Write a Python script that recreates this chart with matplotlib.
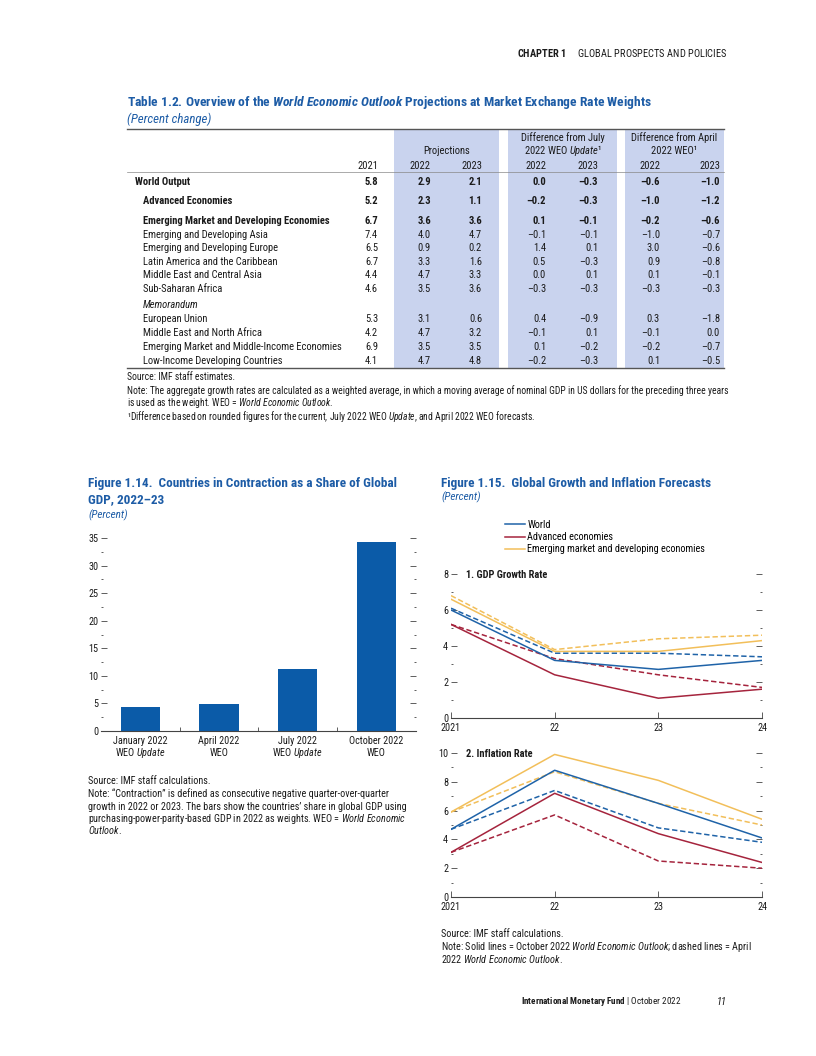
import numpy as np
import matplotlib
matplotlib.use('Agg')
import matplotlib.pyplot as plt
from matplotlib import font_manager as fm
from matplotlib.lines import Line2D

W, H = 816, 1056

# ---------------- Table 1.2 data
rows = ["World Output", "Advanced Economies", "Emerging Market and Developing Economies",
        "Emerging and Developing Asia", "Emerging and Developing Europe",
        "Latin America and the Caribbean", "Middle East and Central Asia", "Sub-Saharan Africa",
        "European Union", "Middle East and North Africa",
        "Emerging Market and Middle-Income Economies", "Low-Income Developing Countries"]
bold_rows = [True, True, True] + [False] * 9
v2021 = [5.8, 5.2, 6.7, 7.4, 6.5, 6.7, 4.4, 4.6, 5.3, 4.2, 6.9, 4.1]
proj2022 = [2.9, 2.3, 3.6, 4.0, 0.9, 3.3, 4.7, 3.5, 3.1, 4.7, 3.5, 4.7]
proj2023 = [2.1, 1.1, 3.6, 4.7, 0.2, 1.6, 3.3, 3.6, 0.6, 3.2, 3.5, 4.8]
jul2022 = [0.0, -0.2, 0.1, -0.1, 1.4, 0.5, 0.0, -0.3, 0.4, -0.1, 0.1, -0.2]
jul2023 = [-0.3, -0.3, -0.1, -0.1, 0.1, -0.3, 0.1, -0.3, -0.9, 0.1, -0.2, -0.3]
apr2022 = [-0.6, -1.0, -0.2, -1.0, 3.0, 0.9, 0.1, -0.3, 0.3, -0.1, -0.2, 0.1]
apr2023 = [-1.0, -1.2, -0.6, -0.7, -0.6, -0.8, -0.1, -0.3, -1.8, 0.0, -0.7, -0.5]
col_years = ["2021", "2022", "2023", "2022", "2023", "2022", "2023"]

# ---------------- Figure 1.14 data
contr_labels = ["January 2022", "April 2022", "July 2022", "October 2022"]
contr_update = [True, False, True, False]
contr_share = [4.3, 4.9, 11.3, 34.3]

# ---------------- Figure 1.15 data
years = [2021, 2022, 2023, 2024]
year_labels = ["2021", "22", "23", "24"]
gdp_world_oct = [6.0, 3.2, 2.7, 3.2]
gdp_world_apr = [6.1, 3.6, 3.6, 3.4]
gdp_adv_oct = [5.2, 2.4, 1.1, 1.6]
gdp_adv_apr = [5.2, 3.3, 2.4, 1.7]
gdp_emde_oct = [6.6, 3.7, 3.7, 4.3]
gdp_emde_apr = [6.8, 3.8, 4.4, 4.6]
inf_world_oct = [4.7, 8.8, 6.5, 4.1]
inf_world_apr = [4.7, 7.4, 4.8, 3.8]
inf_adv_oct = [3.1, 7.2, 4.4, 2.4]
inf_adv_apr = [3.1, 5.7, 2.5, 2.0]
inf_emde_oct = [5.9, 9.9, 8.1, 5.4]
inf_emde_apr = [5.9, 8.7, 6.5, 5.0]
legend_labels = ["World", "Advanced economies", "Emerging market and developing economies"]

# ---------------- fonts: a narrow face if one is installed, else Liberation Sans smaller
names = {f.name for f in fm.fontManager.ttflist}
narrow = next((c for c in ['Liberation Sans Narrow', 'Roboto Condensed', 'Arial Narrow',
                           'Noto Sans Condensed'] if c in names), None)
FONT = narrow or 'Liberation Sans'
if narrow:
    TB, TNOTE, NOTE, FT, TT, SUB, LEG, TICK, PT, CAT, HDR = \
        7.6, 6.9, 7.3, 9.5, 9.7, 9.3, 7.25, 7.3, 7.5, 7.3, 7.5
else:
    TB, TNOTE, NOTE, FT, TT, SUB, LEG, TICK, PT, CAT, HDR = \
        6.6, 6.1, 6.4, 8.3, 8.5, 8.2, 6.4, 7, 6.3, 6.5, 6.5
plt.rcParams['font.family'] = [FONT, 'DejaVu Sans']
plt.rcParams['mathtext.fontset'] = 'custom'
plt.rcParams['mathtext.rm'] = FONT
plt.rcParams['mathtext.it'] = FONT + ':italic'
plt.rcParams['mathtext.bf'] = FONT + ':bold'
plt.rcParams['mathtext.bfit'] = FONT + ':italic:bold'

INK = '#1a1a1a'
BLUE_T = '#1d5ca6'
SHADE = '#c9d3ee'
BAR = '#0b5ba8'
C_WORLD = '#1f63a8'
C_ADV = '#a5243d'
C_EMDE = '#f2bf5a'
AX = '#444444'


def it(s):
    return r'$\mathit{' + s.replace(' ', r'\ ') + '}$'


def bf(s):
    return r'$\mathbf{' + s.replace(' ', r'\ ') + '}$'


def bfit(s):
    return r'$\mathbfit{' + s.replace(' ', r'\ ') + '}$'


def fmt(v):
    return f"{v:.1f}".replace('-', '\u2013')


fig = plt.figure(figsize=(W / 100, H / 100), dpi=100)
page = fig.add_axes([0, 0, 1, 1], zorder=-5)
page.set_xlim(0, W)
page.set_ylim(H, 0)
page.axis('off')


def txt(x, y, s, size=NOTE, ha='left', color=INK, **kw):
    # y is the visual middle of the capitals; place on a shared baseline
    base = y + 0.365 * size * 100 / 72
    page.text(x, base, s, fontsize=size, ha=ha, va='baseline', color=color, **kw)


# ---------------- running header / footer
txt(727, 53, bf("CHAPTER 1") + "     GLOBAL PROSPECTS AND POLICIES", size=HDR, ha='right')
txt(681, 1001, bf("International Monetary Fund") + r" $|$ October 2022", size=HDR - 0.9,
    ha='right')
txt(727, 1001, "11", size=HDR, ha='right', fontstyle='italic')

# ---------------- Table 1.2
txt(127, 101, "Table 1.2. Overview of the " + bfit("World Economic Outlook")
    + " Projections at Market Exchange Rate Weights", size=TT, color=BLUE_T, fontweight='bold')
txt(127, 118, "(Percent change)", size=SUB, color=BLUE_T, fontstyle='italic')

for x0, x1 in [(394, 499), (508, 617), (625, 724)]:
    page.add_patch(plt.Rectangle((x0, 129), x1 - x0, 239, color=SHADE, lw=0, zorder=0))
page.plot([127, 724], [129, 129], color='#555555', lw=1.0)
page.plot([127, 724], [172, 172], color='#888888', lw=0.5)
page.plot([127, 724], [368, 368], color='#555555', lw=1.0)

txt(446.5, 150, "Projections", size=TB, ha='center')
txt(562.5, 137, "Difference from July", size=TB, ha='center')
txt(562.5, 150, "2022 WEO " + it("Update") + "\u00b9", size=TB, ha='center')
txt(674.5, 137, "Difference from April", size=TB, ha='center')
txt(674.5, 150, "2022 WEO\u00b9", size=TB, ha='center')

col_right = [378, 431, 482, 546, 598, 660, 720]
for xr, lab in zip(col_right, col_years):
    txt(xr, 165, lab, size=TB, ha='right')

row_y = [181, 200, 220, 234, 247, 261, 274, 288, 318, 332, 346, 360]
cols = [v2021, proj2022, proj2023, jul2022, jul2023, apr2022, apr2023]
for i, name in enumerate(rows):
    w = 'bold' if bold_rows[i] else 'normal'
    txt(135 if i == 0 else 143, row_y[i], name, size=TB, fontweight=w)
    for xr, col in zip(col_right, cols):
        txt(xr, row_y[i], fmt(col[i]), size=TB, ha='right', fontweight=w)
txt(143, 304, "Memorandum", size=TB, fontstyle='italic')

txt(127, 377, "Source: IMF staff estimates.", size=TNOTE)
txt(127, 391, "Note: The aggregate growth rates are calculated as a weighted average, in which a "
              "moving average of nominal GDP in US dollars for the preceding three years",
    size=TNOTE)
txt(127, 403, "is used as the weight. WEO = " + it("World Economic Outlook") + ".", size=TNOTE)
txt(127, 417, "\u00b9Difference based on rounded figures for the current, July 2022 WEO "
    + it("Update") + ", and April 2022 WEO forecasts.", size=TNOTE)

# ---------------- Figure 1.14
txt(88, 482, "Figure 1.14.  Countries in Contraction as a Share of Global", size=FT,
    color=BLUE_T, fontweight='bold')
txt(88, 498, "GDP, 2022\u201323", size=FT, color=BLUE_T, fontweight='bold')
txt(88, 514, "(Percent)", size=SUB - 1.3, color=BLUE_T, fontstyle='italic')

ax1 = fig.add_axes([101 / W, 1 - 731 / H, 314.6 / W, 193 / H])
xc = np.arange(len(contr_share))
ax1.bar(xc, contr_share, width=0.5, color=BAR)
ax1.set_xlim(-0.5, 3.5)
ax1.set_ylim(0, 35)
for s in ['left', 'right', 'top']:
    ax1.spines[s].set_visible(False)
ax1.spines['bottom'].set_color(AX)
ax1.spines['bottom'].set_linewidth(0.8)
ax1.set_yticks(np.arange(0, 36, 5))
ax1.set_yticks(np.arange(2.5, 35, 5), minor=True)
ax1.tick_params(axis='y', which='both', direction='in', right=True, labelsize=TICK,
                pad=2, color=AX, labelcolor=INK)
ax1.tick_params(axis='y', which='major', length=4, width=0.6)
ax1.tick_params(axis='y', which='minor', length=1.2, width=0.6)
ax1.set_xticks([0.5, 1.5, 2.5])
ax1.tick_params(axis='x', direction='in', length=3, width=0.6, color=AX, labelbottom=False)
for i, lab in enumerate(contr_labels):
    xp = ax1.transData.transform((xc[i], 0))[0]
    txt(xp, 740, lab, size=CAT, ha='center')
    txt(xp, 752, "WEO " + it("Update") if contr_update[i] else "WEO", size=CAT, ha='center')

txt(88, 780, "Source: IMF staff calculations.")
txt(88, 793, "Note: \u201cContraction\u201d is defined as consecutive negative quarter-over-quarter")
txt(88, 806, "growth in 2022 or 2023. The bars show the countries\u2019 share in global GDP using")
txt(88, 818, "purchasing-power-parity-based GDP in 2022 as weights. WEO = " + it("World Economic"))
txt(88, 830, it("Outlook") + ".")

# ---------------- Figure 1.15
txt(441, 482, "Figure 1.15.  Global Growth and Inflation Forecasts", size=FT,
    color=BLUE_T, fontweight='bold')
txt(441, 496, "(Percent)", size=SUB - 1.3, color=BLUE_T, fontstyle='italic')

DASH = (0, (3.5, 1.8))


def panel(top_px, ymax, title, series):
    ax = fig.add_axes([451 / W, 1 - (top_px + 144) / H, 311 / W, 144 / H])
    for vals, color, ls in series:
        ax.plot(years, vals, color=color, ls=ls, lw=1.1)
    ax.set_xlim(2021, 2024)
    ax.set_ylim(0, ymax)
    for s in ['left', 'right', 'top']:
        ax.spines[s].set_visible(False)
    ax.spines['bottom'].set_color(AX)
    ax.spines['bottom'].set_linewidth(0.8)
    ax.set_yticks(np.arange(0, ymax + 1, 2))
    ax.set_yticks(np.arange(1, ymax, 2), minor=True)
    ax.tick_params(axis='y', which='both', direction='in', right=True, labelsize=TICK,
                   pad=2, color=AX, labelcolor=INK)
    ax.tick_params(axis='y', which='major', length=4, width=0.6)
    ax.tick_params(axis='y', which='minor', length=1.2, width=0.6)
    ax.set_xticks(years)
    ax.set_xticklabels(year_labels)
    ax.tick_params(axis='x', direction='in', length=4, width=0.6, color=AX,
                   labelsize=TICK, pad=3.8, labelcolor=INK)
    ax.text(15 / 311, 1.0, title, transform=ax.transAxes, fontsize=PT, fontweight='bold',
            va='center_baseline', ha='left', color=INK)
    return ax


axg = panel(574, 8, "1. GDP Growth Rate", [
    (gdp_world_apr, C_WORLD, DASH), (gdp_adv_apr, C_ADV, DASH), (gdp_emde_apr, C_EMDE, DASH),
    (gdp_emde_oct, C_EMDE, '-'), (gdp_adv_oct, C_ADV, '-'), (gdp_world_oct, C_WORLD, '-')])
axi = panel(753, 10, "2. Inflation Rate", [
    (inf_world_apr, C_WORLD, DASH), (inf_adv_apr, C_ADV, DASH), (inf_emde_apr, C_EMDE, DASH),
    (inf_emde_oct, C_EMDE, '-'), (inf_adv_oct, C_ADV, '-'), (inf_world_oct, C_WORLD, '-')])

leg_handles = [Line2D([], [], color=c, lw=1.1) for c in (C_WORLD, C_ADV, C_EMDE)]
page.legend(leg_handles, legend_labels, loc='upper left', bbox_to_anchor=(505, 520),
            bbox_transform=page.transData, frameon=False, fontsize=LEG, borderpad=0,
            borderaxespad=0, handlelength=2.0, handletextpad=0.2, labelspacing=0.22)

txt(441, 933, "Source: IMF staff calculations.")
txt(441, 946, "Note: Solid lines = October 2022 " + it("World Economic Outlook")
    + "; dashed lines = April")
txt(441, 959, "2022 " + it("World Economic Outlook") + ".")

fig.savefig('out.png', dpi=100)
